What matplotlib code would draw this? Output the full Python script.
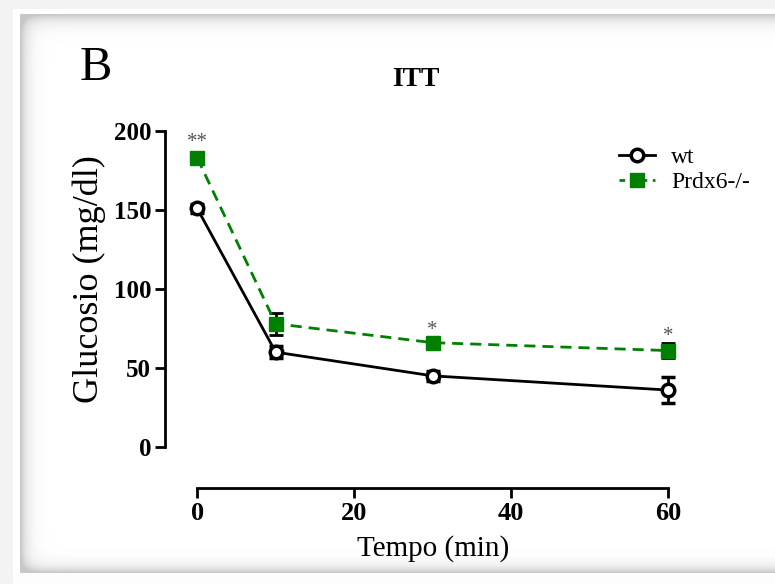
import numpy as np
import matplotlib.pyplot as plt
from matplotlib.lines import Line2D

# data
tempo = [0, 10, 30, 60]
wt_mean = [151, 60, 45, 36]
wt_err = [3, 4, 3, 8]
ko_mean = [183, 78, 66, 61]
ko_err = [3, 7, 3, 5]
star_x = [0, 30, 60]
star_txt = ['**', '*', '*']
star_y = [187, 68, 64]

W, H = 775, 584
fig = plt.figure(figsize=(W / 100, H / 100), dpi=100)

# background frame with soft inner shadow
bg = fig.add_axes([0, 0, 1, 1])
yy, xx = np.mgrid[0:H, 0:W]
img = np.ones((H, W))
x0, y0, y1 = 20, 14, 572
inside = (xx >= x0) & (yy >= y0) & (yy <= y1)
shade = (np.exp(-(xx - x0) / 7.0) + np.exp(-(yy - y0) / 7.0) + np.exp(-(y1 - yy) / 6.0))
img[inside] = 1 - 0.22 * np.clip(shade[inside], 0, 1)
img[(xx < 13) | (yy < 9)] = 0.95
img[(yy > y1) & (xx >= 13)] = 0.99
bg.imshow(img, cmap='gray', vmin=0, vmax=1, aspect='auto', interpolation='bilinear')
bg.axis('off')

serif = 'Liberation Serif'
green = '#008000'

# axes placed in pixels
left, right, top, bottom = 165, 720, 125, 488
ax = fig.add_axes([left / W, 1 - bottom / H, (right - left) / W, (bottom - top) / H])
ax.patch.set_alpha(0)

ax.errorbar(tempo, wt_mean, yerr=wt_err, color='black', lw=2, marker='o', ms=9,
            mfc='white', mec='black', mew=2.5, capsize=5, capthick=2, elinewidth=2,
            zorder=3)
ax.errorbar(tempo, ko_mean, yerr=ko_err, color=green, lw=2, ls='--', dashes=(4, 2.5),
            marker='s', ms=10, mfc=green, mec=green, ecolor='black',
            capsize=5, capthick=2, elinewidth=2, zorder=4)

for sx, st, sy in zip(star_x, star_txt, star_y):
    ax.text(sx, sy, st, ha='center', va='bottom', fontsize=15, color='#555555', family=serif)

ax.set_xlim(-4.1, 66.6)
ax.set_ylim(-26, 203.8)
ax.spines['top'].set_visible(False)
ax.spines['right'].set_visible(False)
ax.spines['left'].set_bounds(0, 200)
ax.spines['bottom'].set_bounds(0, 60)
for s in ['left', 'bottom']:
    ax.spines[s].set_linewidth(2)
ax.set_yticks([0, 50, 100, 150, 200])
ax.set_xticks([0, 20, 40, 60])
ax.tick_params(width=2, length=7, direction='out', pad=3)
for lab in ax.get_yticklabels():
    lab.set_family(serif)
    lab.set_fontsize(18)
    lab.set_fontweight('bold')
for lab in ax.get_xticklabels():
    lab.set_family(serif)
    lab.set_fontsize(19)
    lab.set_fontweight('bold')

ax.set_ylabel('Glucosio (mg/dl)', family=serif, fontsize=26)
ax.yaxis.set_label_coords(-0.106, 0.575)
ax.set_xlabel('Tempo (min)', family=serif, fontsize=21)
ax.xaxis.set_label_coords(0.483, -0.13)

handles = [Line2D([], [], color='black', lw=2, marker='o', ms=9, mfc='white', mec='black', mew=2.5),
           Line2D([], [], color=green, lw=2, ls='--', dashes=(2, 2), marker='s', ms=10,
                  mfc=green, mec=green)]
ax.legend(handles, ['wt', 'Prdx6-/-'], loc='upper left', bbox_to_anchor=(0.78, 1.0),
          frameon=False, prop={'family': serif, 'size': 17},
          handlelength=1.5, labelspacing=0.15, handletextpad=0.7)

fig.text(80 / W, 1 - 80 / H, 'B', family=serif, fontsize=35, ha='left', va='baseline')
fig.text(416 / W, 1 - 86 / H, 'ITT', family=serif, fontsize=20, fontweight='bold',
         ha='center', va='baseline')

fig.savefig('out.png', dpi=100)
